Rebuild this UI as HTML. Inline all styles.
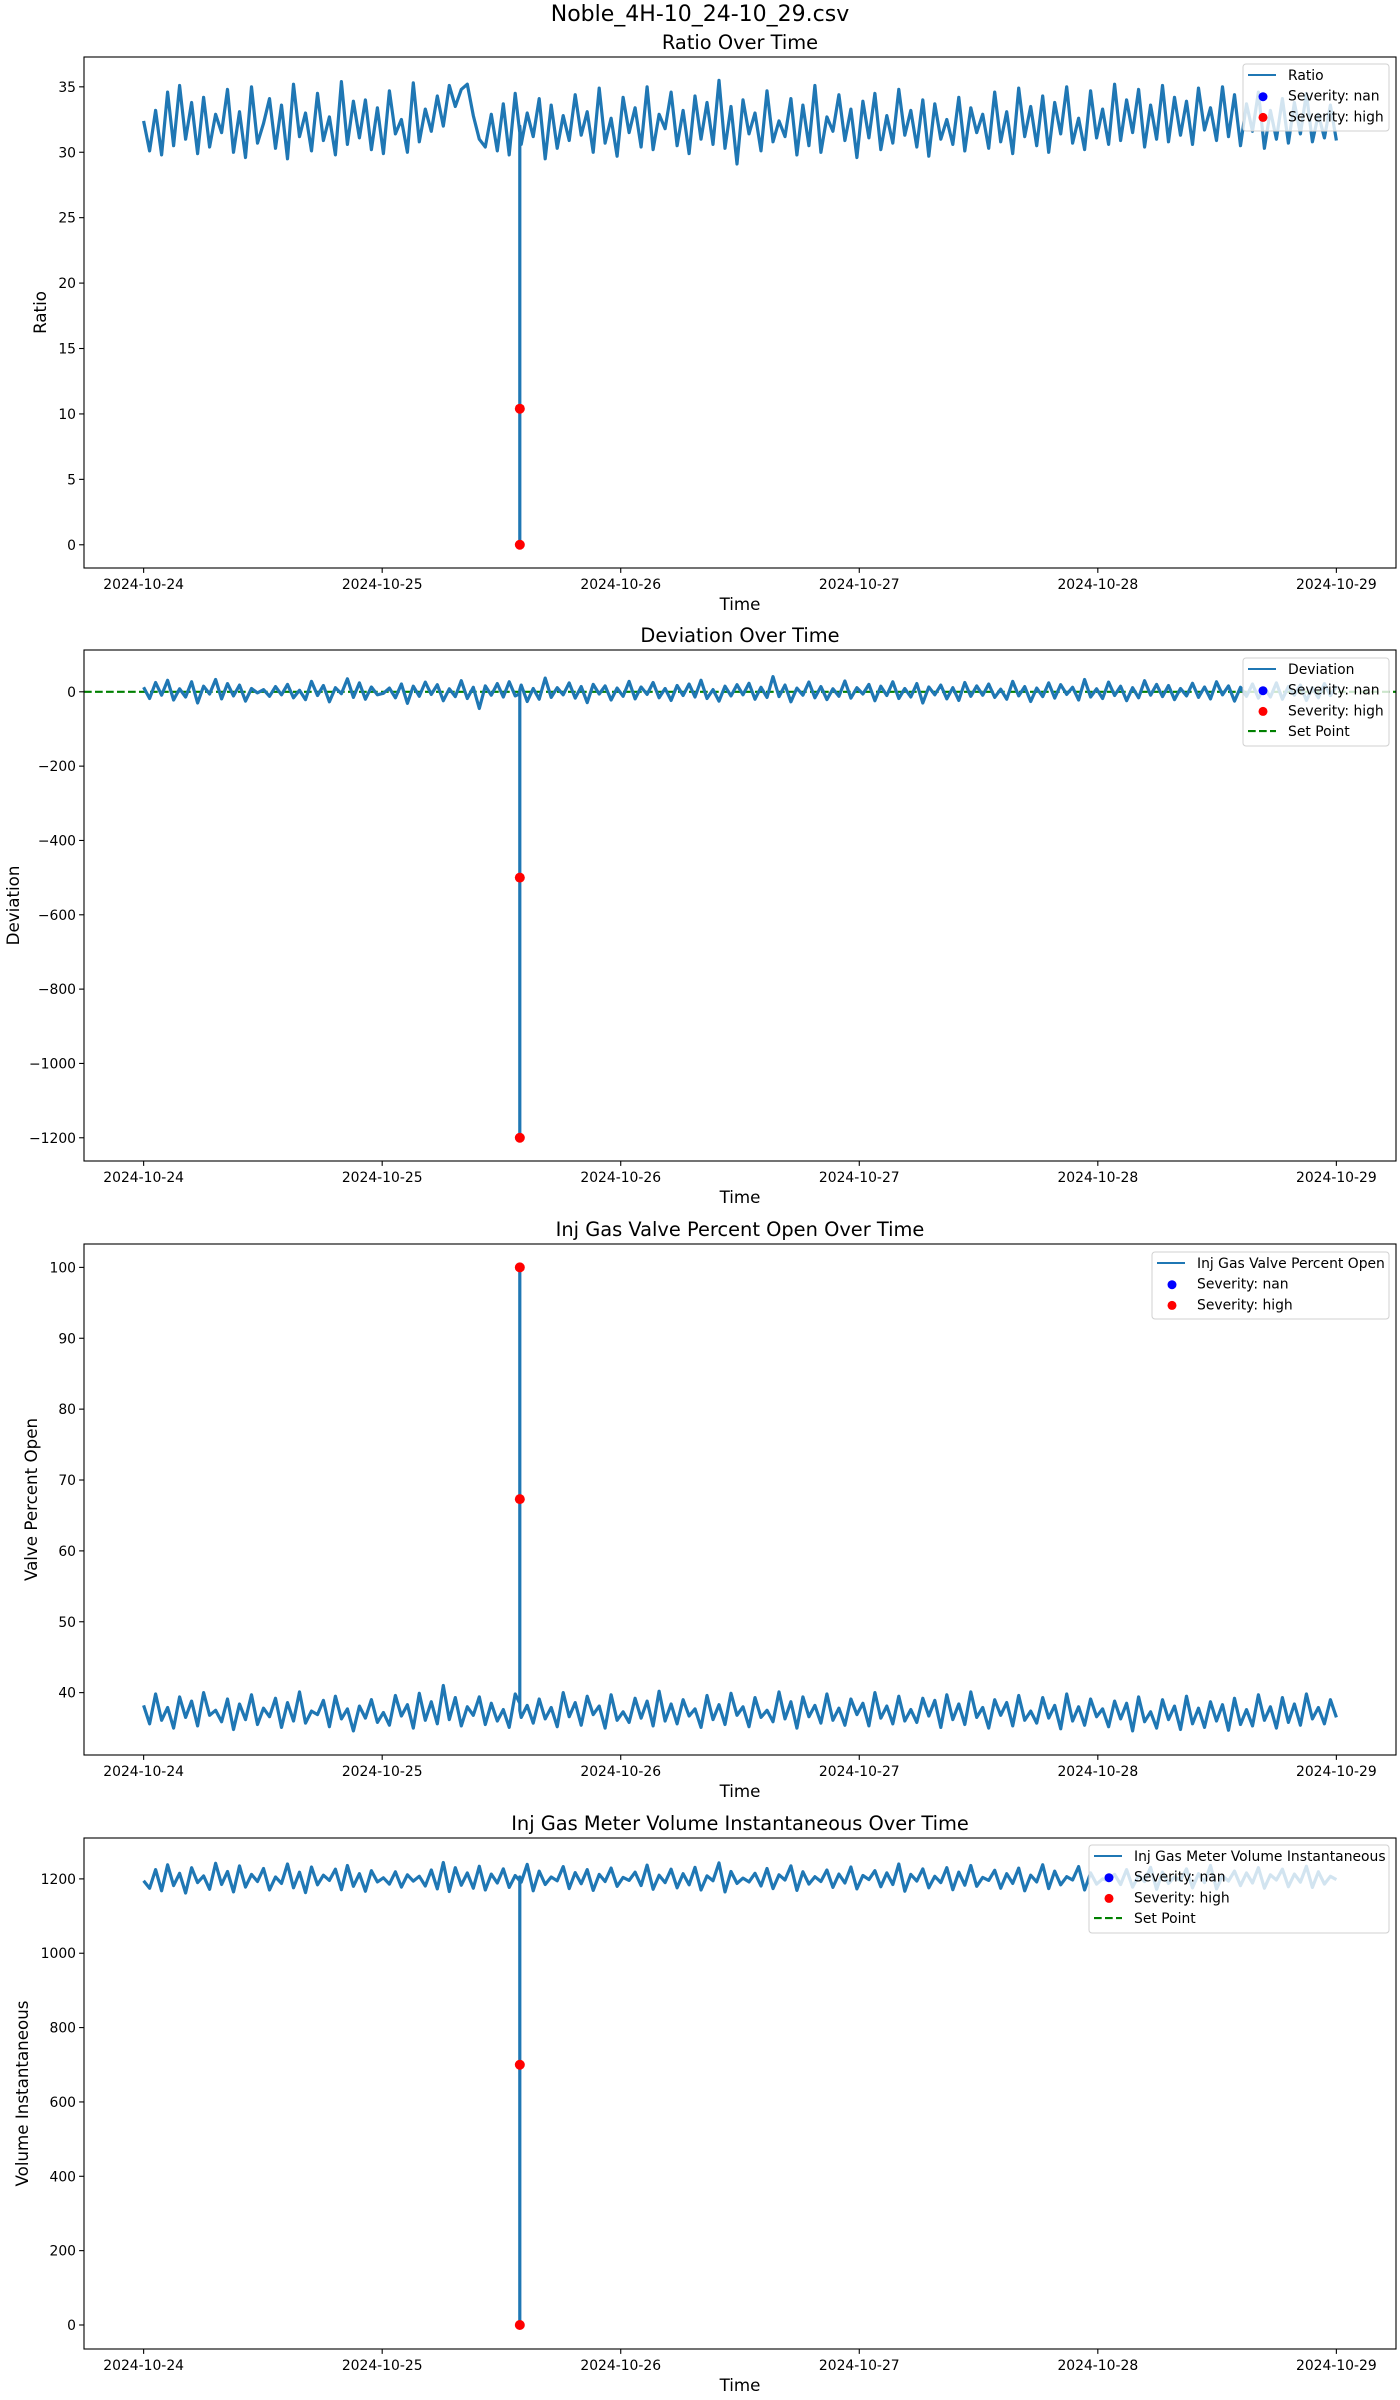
<!DOCTYPE html>
<html>
<head>
<meta charset="utf-8">
<style>
  html,body{margin:0;padding:0;background:#fff;}
  svg{display:block;font-family:"DejaVu Sans","Liberation Sans",sans-serif;}
</style>
</head>
<body>
<svg id="fig" width="1400" height="2400" viewBox="0 0 1400 2400" xmlns="http://www.w3.org/2000/svg">
  <rect x="0" y="0" width="1400" height="2400" fill="#fff"/>
  <text x="700" y="21" font-size="22" text-anchor="middle">Noble_4H-10_24-10_29.csv</text>
</svg>
<script>
// ---- shared x-axis data ----
const xTickLabels = ["2024-10-24","2024-10-25","2024-10-26","2024-10-27","2024-10-28","2024-10-29"];
const xTickDays = [0,1,2,3,4,5];
const seriesStartDay = 0;
const seriesEndDay = 5;
const spikeDay = 1.577;

// ---- Ratio ----
const ratioValues = [32.4,30.1,33.2,29.8,34.6,30.5,35.1,31.0,33.8,29.9,34.2,30.4,32.9,31.5,34.8,30.0,33.1,29.6,35.0,30.7,
32.2,34.1,30.3,33.6,29.5,35.2,31.2,33.0,30.1,34.5,30.9,32.7,29.8,35.4,30.6,33.9,31.1,34.0,30.2,33.4,
29.9,34.7,31.4,32.5,30.0,35.3,30.8,33.3,31.6,34.3,32.0,35.1,33.5,34.8,35.2,32.8,31.0,30.4,32.9,30.1,
33.7,29.8,34.5,30.6,33.0,31.2,34.1,29.5,33.6,30.3,32.8,30.9,34.4,31.3,33.1,30.0,34.9,30.7,32.6,29.7,
34.2,31.5,33.4,30.4,35.0,30.2,32.9,31.8,34.6,30.5,33.2,29.9,34.3,31.0,33.8,30.6,35.5,30.3,33.5,29.1,
34.0,31.4,33.0,30.1,34.7,30.8,32.4,31.2,34.1,29.8,33.6,30.5,35.1,30.0,32.7,31.6,34.4,30.9,33.3,29.6,
33.9,31.1,34.5,30.2,32.8,30.7,34.8,31.3,33.2,30.4,34.0,29.7,33.7,31.0,32.5,30.6,34.2,30.1,33.4,31.5,
32.9,30.3,34.6,30.8,33.1,29.9,34.9,31.2,33.5,30.5,34.3,30.0,33.8,31.4,35.0,30.7,32.6,30.2,34.7,31.1,
33.3,30.6,35.2,30.9,34.0,31.5,34.8,30.4,33.6,31.0,35.1,30.8,34.2,31.3,33.9,30.6,34.9,31.7,33.4,30.9,
35.0,31.2,34.4,30.5,33.7,31.6,34.6,30.3,33.2,31.0,34.1,30.7,33.8,31.4,34.5,30.8,32.9,31.1,33.6,30.9];
const ratioSpike = [31.5,10.4,0,32.0];
const ratioHigh = [10.4,0];
const ratioTicks = [0,5,10,15,20,25,30,35];

// ---- Deviation ----
const deviationValues = [12,-18,25,-9,31,-22,8,-14,27,-30,15,-6,33,-19,22,-11,18,-25,9,-3,
6,-12,14,-8,20,-16,4,-21,28,-10,17,-27,11,-5,35,-15,24,-20,13,-8,
-4,10,-16,21,-31,15,-12,26,-7,19,-24,8,-13,30,-18,12,-45,16,-9,22,
-14,27,-11,18,-26,9,-20,37,-15,11,-8,24,-17,14,-29,20,-6,16,-22,10,
-12,28,-19,13,-7,25,-16,9,-23,17,-10,21,-14,31,-18,6,-25,15,-11,19,
-8,23,-20,12,-15,41,-13,18,-27,10,-9,26,-16,14,-21,8,-12,29,-17,11,
-6,20,-24,15,-10,27,-18,9,-14,22,-30,13,-8,18,-19,11,-23,25,-12,16,
-9,21,-15,7,-20,28,-11,14,-26,10,-13,24,-17,19,-7,12,-22,33,-14,8,
-18,26,-10,15,-24,11,-16,30,-9,20,-13,17,-21,9,-11,23,-15,13,-19,27,
-8,16,-25,12,-12,21,-17,10,-14,24,-20,14,-9,18,-23,11,-16,22,-10,15];
const deviationSpike = [-5,-500,-1200,5];
const deviationHigh = [-500,-1200];
const deviationTicks = [-1200,-1000,-800,-600,-400,-200,0];
const deviationSetPoint = 0;

// ---- Valve ----
const valveValues = [38.2,35.6,39.8,36.1,37.9,35.0,39.4,36.5,38.8,35.3,40.0,36.8,37.5,35.9,39.1,34.8,38.4,36.2,39.7,35.5,
37.8,36.6,39.2,35.1,38.6,36.0,40.1,35.7,37.4,36.9,38.9,35.2,39.5,36.3,37.7,34.6,38.1,36.4,39.0,35.8,
37.2,35.4,39.6,36.7,38.3,35.0,39.9,36.1,38.7,35.6,41.0,36.2,39.3,35.3,38.0,36.8,39.4,35.5,38.5,36.0,
37.6,35.1,39.8,36.5,38.2,35.7,39.1,36.3,37.9,35.2,40.0,36.6,38.6,35.4,39.5,36.9,38.1,35.0,39.7,36.1,
37.3,35.8,39.2,36.4,38.8,35.3,40.2,36.0,38.4,35.6,39.0,36.7,37.7,35.1,39.6,36.2,38.3,35.5,39.9,36.8,
38.0,35.2,39.3,36.5,37.5,35.9,40.1,36.3,38.7,35.0,39.4,36.6,38.2,35.7,39.8,36.1,37.8,35.4,39.1,36.9,
38.5,35.3,40.0,36.4,38.1,35.6,39.5,36.0,37.6,35.8,39.2,36.7,38.9,35.1,39.7,36.2,38.4,35.5,40.1,36.5,
37.9,35.0,39.0,36.8,38.6,35.3,39.6,36.1,37.4,35.7,39.3,36.4,38.2,34.9,39.8,36.0,38.0,35.4,39.1,36.6,
37.7,35.2,38.8,36.3,38.5,34.6,39.4,35.9,37.3,35.0,39.0,36.2,38.1,34.8,39.5,35.6,37.8,35.1,38.7,36.0,
38.3,34.7,39.2,35.5,37.6,35.3,39.7,36.1,38.0,35.0,39.3,35.8,38.4,35.4,39.8,36.3,37.9,35.6,39.0,36.5];
const valveSpike = [38.5,67.3,100,37.5];
const valveHigh = [67.3,100];
const valveTicks = [40,50,60,70,80,90,100];

// ---- Volume ----
const volumeValues = [1195,1175,1225,1168,1238,1182,1215,1162,1230,1190,1208,1172,1242,1185,1220,1165,1235,1178,1212,1193,
1228,1170,1205,1188,1240,1176,1218,1163,1232,1184,1210,1196,1226,1171,1236,1180,1214,1167,1222,1192,
1203,1186,1219,1178,1211,1194,1207,1181,1224,1173,1244,1166,1230,1183,1216,1175,1234,1170,1213,1189,
1227,1177,1209,1191,1239,1168,1221,1185,1205,1195,1233,1174,1217,1187,1225,1169,1212,1193,1229,1180,
1204,1196,1218,1182,1237,1172,1210,1190,1226,1176,1214,1184,1231,1170,1208,1195,1243,1165,1220,1188,
1202,1192,1215,1181,1228,1174,1211,1197,1235,1169,1219,1186,1206,1193,1224,1177,1213,1189,1232,1173,
1209,1198,1222,1179,1216,1185,1240,1167,1212,1194,1227,1176,1207,1190,1230,1171,1218,1183,1236,1180,
1204,1196,1223,1175,1214,1188,1229,1168,1210,1192,1238,1174,1221,1184,1206,1197,1233,1170,1216,1186,
1200,1195,1212,1185,1225,1178,1209,1193,1231,1172,1218,1188,1205,1196,1227,1176,1214,1190,1236,1173,
1208,1194,1221,1182,1216,1189,1230,1175,1211,1197,1226,1179,1213,1191,1234,1177,1219,1186,1207,1198];
const volumeSpike = [1195,700,0,1205];
const volumeHigh = [700,0];
const volumeTicks = [0,200,400,600,800,1000,1200];

const NS = "http://www.w3.org/2000/svg";
const fig = document.getElementById("fig");
const AX_L = 84, AX_R = 1396;
const xmin = -0.25, xmax = 5.25;
function xScale(d){ return AX_L + (d - xmin) / (xmax - xmin) * (AX_R - AX_L); }
function mk(tag, attrs, parent){
  const e = document.createElementNS(NS, tag);
  for (const k in attrs) e.setAttribute(k, attrs[k]);
  (parent || fig).appendChild(e);
  return e;
}
function fmt(v){ return v < 0 ? "\u2212" + Math.abs(v) : String(v); }

function drawPanel(p){
  const g = mk("g", {});
  
  
  const yScale = v => p.bottom - (v - p.ymin) / (p.ymax - p.ymin) * (p.bottom - p.top);
  const clipId = "clip-" + p.name;
  const cp = mk("clipPath", {id: clipId}, g);
  mk("rect", {x: AX_L, y: p.top, width: AX_R - AX_L, height: p.bottom - p.top}, cp);

  const t = mk("text", {x: (AX_L + AX_R) / 2, y: p.top - 8, "font-size": 19.4, "text-anchor": "middle"}, g);
  
  
  t.textContent = p.title;

  const plot = mk("g", {"clip-path": "url(#" + clipId + ")"}, g);
  if (p.setPoint !== undefined) {
    const sp = mk("line", {x1: AX_L, x2: AX_R, y1: yScale(p.setPoint), y2: yScale(p.setPoint), stroke: "#008000", "stroke-width": 2.1, "stroke-dasharray": "7.7,3.3"}, plot);
    
    
  }
  const n = p.values.length;
  let pts = [];
  let inserted = false;
  for (let i = 0; i < n; i++) {
    const d = seriesStartDay + i / (n - 1) * (seriesEndDay - seriesStartDay);
    if (!inserted && d >= spikeDay) {
      for (const v of p.spike) pts.push([xScale(spikeDay), yScale(v)]);
      inserted = true;
    }
    pts.push([xScale(d), yScale(p.values[i])]);
  }
  const path = mk("path", {d: "M" + pts.map(q => q[0].toFixed(1) + "," + q[1].toFixed(1)).join("L"), fill: "none", stroke: "#1f77b4", "stroke-width": 3.2, "stroke-linejoin": "round"}, plot);
  
  
  for (const v of p.high) {
    const c = mk("circle", {cx: xScale(spikeDay), cy: yScale(v), r: 5, fill: "#ff0000"}, plot);
    
    
  }

  const fr = mk("rect", {x: AX_L, y: p.top, width: AX_R - AX_L, height: p.bottom - p.top, fill: "none", stroke: "#000", "stroke-width": 1.1}, g);
  
  

  for (let i = 0; i < xTickDays.length; i++) {
    const x = xScale(xTickDays[i]);
    mk("line", {x1: x, x2: x, y1: p.bottom, y2: p.bottom + 4.9, stroke: "#000", "stroke-width": 1.1}, g);
    const tl = mk("text", {x: x, y: p.bottom + 21, "font-size": 13.9, "text-anchor": "middle"}, g);
    
    
    tl.textContent = xTickLabels[i];
  }
  const xl = mk("text", {x: (AX_L + AX_R) / 2, y: p.bottom + 42, "font-size": 16.7, "text-anchor": "middle"}, g);
  
  
  xl.textContent = "Time";

  for (const v of p.ticks) {
    const y = yScale(v);
    mk("line", {x1: AX_L - 4.9, x2: AX_L, y1: y, y2: y, stroke: "#000", "stroke-width": 1.1}, g);
    const tl = mk("text", {x: AX_L - 8, y: y + 5, "font-size": 13.9, "text-anchor": "end"}, g);
    
    
    tl.textContent = fmt(v);
  }
  const yc = (p.top + p.bottom) / 2;
  const yl = mk("text", {x: p.ylabelX, y: yc, "font-size": 16.7, "text-anchor": "middle", transform: "rotate(-90 " + p.ylabelX + " " + yc + ")"}, g);
  
  
  yl.textContent = p.ylabel;

  const L = p.legend;
  const lg = mk("g", {}, g);
  
  
  mk("rect", {x: L.x, y: L.y, width: L.w, height: L.h, rx: 3, fill: "#fff", "fill-opacity": 0.8, stroke: "#d0d0d0", "stroke-width": 1}, lg);
  const entries = [{k: "line", label: p.lineLabel}, {k: "dot", c: "#0000ff", label: "Severity: nan"}, {k: "dot", c: "#ff0000", label: "Severity: high"}];
  if (p.legendSetPoint) entries.push({k: "dash", label: "Set Point"});
  entries.forEach((e, i) => {
    const cy = L.y + 11 + i * 20.7;
    const hx = L.x + 5;
    if (e.k === "line") mk("line", {x1: hx, x2: hx + 28, y1: cy, y2: cy, stroke: "#1f77b4", "stroke-width": 2.1}, lg);
    else if (e.k === "dot") mk("circle", {cx: hx + 15, cy: cy + 1, r: 4.5, fill: e.c}, lg);
    else mk("line", {x1: hx, x2: hx + 28, y1: cy, y2: cy, stroke: "#008000", "stroke-width": 2.1, "stroke-dasharray": "7.7,3.3"}, lg);
    const tx = mk("text", {x: hx + 40, y: cy + 5, "font-size": 13.9}, lg);
    
    
    tx.textContent = e.label;
  });
}

drawPanel({name: "ratio", title: "Ratio Over Time", top: 57, bottom: 568, ymin: -1.775, ymax: 37.28, ticks: ratioTicks,
  values: ratioValues, spike: ratioSpike, high: ratioHigh, ylabel: "Ratio", ylabelX: 46, lineLabel: "Ratio",
  legend: {x: 1243, y: 64, w: 146, h: 67}});
drawPanel({name: "deviation", title: "Deviation Over Time", top: 650, bottom: 1161, ymin: -1262.5, ymax: 112.5, ticks: deviationTicks,
  values: deviationValues, spike: deviationSpike, high: deviationHigh, setPoint: deviationSetPoint, legendSetPoint: true,
  ylabel: "Deviation", ylabelX: 19, lineLabel: "Deviation", legend: {x: 1243, y: 658, w: 146, h: 88}});
drawPanel({name: "valve", title: "Inj Gas Valve Percent Open Over Time", top: 1244, bottom: 1755, ymin: 31.2, ymax: 103.3, ticks: valveTicks,
  values: valveValues, spike: valveSpike, high: valveHigh, ylabel: "Valve Percent Open", ylabelX: 37, lineLabel: "Inj Gas Valve Percent Open",
  legend: {x: 1152, y: 1252, w: 237, h: 67}});
drawPanel({name: "volume", title: "Inj Gas Meter Volume Instantaneous Over Time", top: 1838, bottom: 2349, ymin: -64.6, ymax: 1310, ticks: volumeTicks,
  values: volumeValues, spike: volumeSpike, high: volumeHigh, legendSetPoint: true, ylabel: "Volume Instantaneous", ylabelX: 28,
  lineLabel: "Inj Gas Meter Volume Instantaneous", legend: {x: 1089, y: 1845, w: 300, h: 88}});
</script>
</body>
</html>
